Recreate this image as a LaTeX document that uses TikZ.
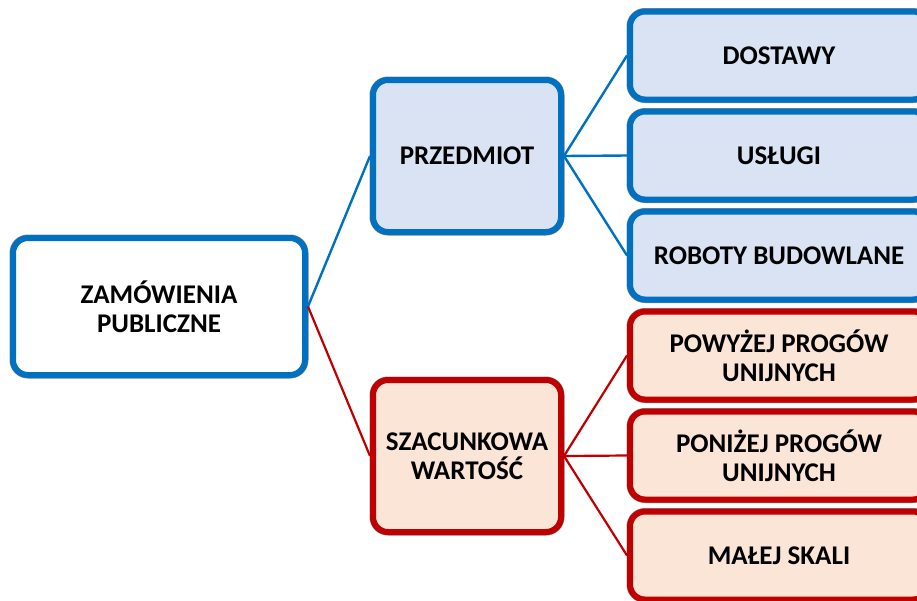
\documentclass[tikz,border=0pt]{standalone}
\usepackage{fontspec}
\setmainfont{Carlito}
\usetikzlibrary{positioning}
\definecolor{zpblue}{RGB}{0,112,192}
\definecolor{zpbluefill}{RGB}{218,227,243}
\definecolor{zpred}{RGB}{192,0,0}
\definecolor{zpredfill}{RGB}{251,229,214}

\begin{document}
\begin{tikzpicture}[x=1pt, y=1pt,
  box/.style={rounded corners=15pt, line width=6pt, inner sep=0pt, align=center,
    font=\fontsize{27}{29}\selectfont\bfseries,
    preaction={draw=black!45, line width=7pt}},
  bluebox/.style={box, draw=zpblue, fill=zpbluefill},
  redbox/.style={box, draw=zpred, fill=zpredfill},
  midbox/.style={minimum width=188pt, minimum height=152pt},
  leafbox/.style={minimum width=298pt, minimum height=88pt},
  blueline/.style={draw=zpblue, line width=2.4pt},
  redline/.style={draw=zpred, line width=2.2pt}]
\useasboundingbox (0,0) rectangle (917,-600);
\clip (0,0) rectangle (917,-600);

% main node
\node[box, draw=zpblue, fill=white, minimum width=292pt, minimum height=137pt] (zamowienia) at (159,-306.5) {ZAMÓWIENIA\\PUBLICZNE};

% second level
\node[bluebox, midbox] (przedmiot) at (467,-156) {PRZEDMIOT};
\node[redbox, midbox] (wartosc) at (467,-456) {SZACUNKOWA\\WARTOŚĆ};

% leaves
\node[bluebox, leafbox] (dostawy) at (779,-55.5) {DOSTAWY};
\node[bluebox, leafbox, below=6pt of dostawy] (uslugi) {USŁUGI};
\node[bluebox, leafbox, below=6pt of uslugi] (roboty) {ROBOTY BUDOWLANE};
\node[redbox, leafbox, below=6pt of roboty] (powyzej) {POWYŻEJ PROGÓW\\UNIJNYCH};
\node[redbox, leafbox, below=6pt of powyzej] (ponizej) {PONIŻEJ PROGÓW\\UNIJNYCH};
\node[redbox, leafbox, below=6pt of ponizej] (malej) {MAŁEJ SKALI};

% connectors
\draw[blueline] (zamowienia.east) -- (przedmiot.west);
\draw[redline] (zamowienia.east) -- (wartosc.west);
\foreach \leaf in {dostawy,uslugi,roboty}
  \draw[blueline] (przedmiot.east) -- (\leaf.west);
\foreach \leaf in {powyzej,ponizej,malej}
  \draw[redline] (wartosc.east) -- (\leaf.west);
\end{tikzpicture}
\end{document}
